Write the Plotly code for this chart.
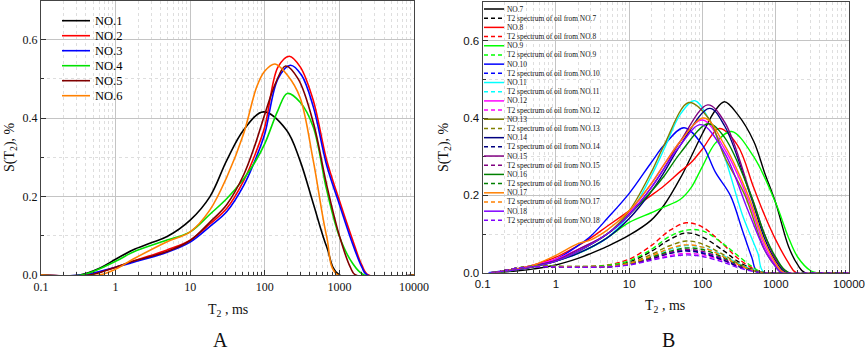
import plotly.graph_objects as go

W, H = 865, 351

# ---------------- Panel A data ----------------
a_names = ["NO.1", "NO.2", "NO.3", "NO.4", "NO.5", "NO.6"]
a_colors = ["#000000", "#ff0000", "#0000ff", "#00e000", "#800000", "#ff8000"]
a_x = [
    [0.1, 0.33, 0.62, 1, 1.7, 3, 4.9, 10, 18.4, 31, 52, 96, 195, 295, 445, 675, 1000, 10000],
    [0.1, 0.4, 1, 1.7, 4.9, 10, 18.4, 31, 52, 75, 100, 150, 213, 300, 445, 675, 1000, 1500, 2000, 2450, 10000],
    [0.1, 0.35, 1, 1.7, 4.9, 10, 18.4, 31, 52, 75, 100, 150, 220, 310, 445, 675, 1000, 1500, 2000, 2350, 10000],
    [0.1, 0.35, 1, 1.7, 4.9, 10, 18.4, 31, 52, 75, 100, 150, 200, 300, 445, 675, 1000, 1500, 2150, 10000],
    [0.1, 0.45, 1, 1.7, 4.9, 10, 18.4, 31, 52, 75, 100, 140, 190, 280, 445, 675, 1000, 1400, 1650, 10000],
    [0.1, 0.6, 1, 1.7, 4.9, 10, 18.4, 31, 52, 78, 100, 137, 200, 295, 445, 675, 950, 10000],
]
a_y = [
    [0, 0, 0.018, 0.04, 0.064, 0.082, 0.098, 0.14, 0.2, 0.293, 0.37, 0.416, 0.37, 0.293, 0.183, 0.072, 0, 0],
    [0, 0, 0.02, 0.035, 0.064, 0.089, 0.13, 0.17, 0.24, 0.31, 0.378, 0.53, 0.558, 0.53, 0.446, 0.293, 0.19, 0.09, 0.025, 0, 0],
    [0, 0, 0.02, 0.032, 0.058, 0.084, 0.124, 0.162, 0.228, 0.295, 0.36, 0.5, 0.535, 0.51, 0.43, 0.28, 0.18, 0.08, 0.02, 0, 0],
    [0, 0, 0.035, 0.058, 0.089, 0.11, 0.155, 0.195, 0.245, 0.29, 0.335, 0.42, 0.463, 0.44, 0.378, 0.217, 0.098, 0.03, 0, 0],
    [0, 0, 0.02, 0.035, 0.06, 0.088, 0.135, 0.18, 0.255, 0.335, 0.41, 0.49, 0.533, 0.5, 0.39, 0.23, 0.1, 0.02, 0, 0],
    [0, 0, 0.015, 0.04, 0.085, 0.11, 0.166, 0.25, 0.36, 0.48, 0.52, 0.538, 0.51, 0.454, 0.293, 0.098, 0, 0],
]

# ---------------- Panel B data ----------------
b_names = ["NO.%d" % i for i in range(7, 19)]
b_colors = ["#000000", "#ff0000", "#00ff00", "#0000ff", "#00ffff", "#ff00ff",
            "#808000", "#000080", "#800080", "#008000", "#ff8000", "#8000ff"]
b_x = [
    [0.15, 0.3, 0.5, 1, 2, 3, 5, 10, 20, 30, 50, 70, 100, 150, 200, 300, 500, 700, 1000, 1500, 2000, 2500, 10000],
    [0.15, 0.3, 0.5, 1, 2, 3, 5, 10, 20, 30, 50, 70, 100, 170, 300, 500, 700, 1000, 1500, 1900, 10000],
    [0.15, 0.3, 0.5, 1, 2, 3, 5, 10, 20, 30, 50, 70, 100, 150, 250, 500, 1000, 1500, 2000, 3000, 3600, 10000],
    [0.12, 0.3, 0.5, 1, 2, 3, 5, 10, 20, 30, 56, 100, 150, 240, 350, 470, 580, 10000],
    [0.13, 0.3, 0.5, 1, 2, 5, 10, 20, 30, 50, 78, 120, 200, 350, 570, 700, 10000],
    [0.13, 0.3, 0.5, 1, 2, 5, 10, 20, 30, 50, 100, 200, 420, 700, 1000, 1300, 10000],
    [0.13, 0.3, 0.5, 1, 2, 5, 10, 20, 30, 65, 120, 200, 380, 700, 1000, 1200, 10000],
    [0.13, 0.3, 0.5, 1, 2, 5, 10, 20, 30, 50, 125, 200, 450, 700, 1000, 1400, 10000],
    [0.13, 0.3, 0.5, 1, 2, 5, 10, 20, 30, 50, 118, 200, 460, 700, 1000, 1500, 10000],
    [0.13, 0.3, 0.5, 1, 2, 5, 10, 20, 30, 50, 120, 200, 460, 700, 1000, 1500, 10000],
    [0.13, 0.3, 0.5, 1, 2, 3, 5, 10, 20, 30, 50, 105, 200, 420, 700, 1000, 1300, 10000],
    [0.13, 0.3, 0.5, 1, 2, 5, 10, 20, 30, 50, 95, 200, 400, 700, 1000, 1200, 10000],
]
b_y = [
    [0, 0.005, 0.01, 0.02, 0.037, 0.05, 0.068, 0.097, 0.136, 0.175, 0.245, 0.3, 0.36, 0.42, 0.442, 0.41, 0.34, 0.26, 0.18, 0.067, 0.02, 0, 0],
    [0, 0.01, 0.02, 0.04, 0.07, 0.09, 0.12, 0.16, 0.2, 0.225, 0.262, 0.285, 0.32, 0.373, 0.33, 0.22, 0.15, 0.085, 0.025, 0, 0],
    [0, 0.008, 0.016, 0.03, 0.05, 0.065, 0.09, 0.13, 0.155, 0.17, 0.19, 0.22, 0.275, 0.335, 0.365, 0.3, 0.18, 0.09, 0.04, 0.005, 0, 0],
    [0, 0.01, 0.018, 0.035, 0.07, 0.095, 0.14, 0.205, 0.285, 0.33, 0.375, 0.33, 0.26, 0.2, 0.11, 0.04, 0, 0],
    [0, 0.008, 0.016, 0.03, 0.05, 0.09, 0.15, 0.25, 0.32, 0.41, 0.445, 0.4, 0.3, 0.15, 0.05, 0, 0],
    [0, 0.01, 0.02, 0.035, 0.06, 0.1, 0.155, 0.23, 0.28, 0.34, 0.395, 0.32, 0.19, 0.07, 0.02, 0, 0],
    [0, 0.008, 0.016, 0.03, 0.055, 0.1, 0.16, 0.26, 0.33, 0.44, 0.4, 0.3, 0.2, 0.06, 0.015, 0, 0],
    [0, 0.008, 0.016, 0.03, 0.05, 0.09, 0.14, 0.21, 0.26, 0.33, 0.425, 0.38, 0.2, 0.09, 0.03, 0, 0],
    [0, 0.009, 0.018, 0.032, 0.06, 0.1, 0.15, 0.22, 0.27, 0.34, 0.434, 0.39, 0.2, 0.1, 0.035, 0, 0],
    [0, 0.008, 0.016, 0.03, 0.055, 0.1, 0.15, 0.21, 0.25, 0.31, 0.385, 0.35, 0.2, 0.1, 0.04, 0, 0],
    [0, 0.01, 0.02, 0.045, 0.075, 0.085, 0.11, 0.16, 0.23, 0.28, 0.34, 0.4, 0.33, 0.2, 0.08, 0.025, 0, 0],
    [0, 0.008, 0.016, 0.03, 0.055, 0.1, 0.15, 0.22, 0.27, 0.33, 0.383, 0.31, 0.17, 0.06, 0.015, 0, 0],
]
oil_names = ["T2 spectrum of oil from NO.%d" % i for i in range(7, 19)]
oil_x = [0.15, 0.3, 0.6, 1, 2, 5, 10, 20, 35, 60, 100, 200, 300, 500, 700, 10000]
oil_y = [
    [0, 0.012, 0.017, 0.016, 0.015, 0.017, 0.028, 0.055, 0.085, 0.103, 0.092, 0.055, 0.03, 0.008, 0, 0],
    [0, 0.012, 0.018, 0.017, 0.016, 0.02, 0.035, 0.07, 0.108, 0.129, 0.118, 0.07, 0.038, 0.01, 0, 0],
    [0, 0.012, 0.018, 0.017, 0.016, 0.019, 0.031, 0.06, 0.093, 0.11, 0.108, 0.072, 0.045, 0.013, 0, 0],
    [0, 0.012, 0.016, 0.015, 0.014, 0.015, 0.022, 0.037, 0.05, 0.058, 0.052, 0.032, 0.018, 0.005, 0, 0],
    [0, 0.012, 0.017, 0.016, 0.015, 0.016, 0.024, 0.042, 0.06, 0.07, 0.066, 0.043, 0.025, 0.007, 0, 0],
    [0, 0.012, 0.016, 0.015, 0.014, 0.015, 0.021, 0.034, 0.044, 0.05, 0.046, 0.03, 0.017, 0.004, 0, 0],
    [0, 0.012, 0.017, 0.016, 0.015, 0.016, 0.025, 0.047, 0.069, 0.082, 0.074, 0.045, 0.025, 0.006, 0, 0],
    [0, 0.012, 0.016, 0.015, 0.014, 0.015, 0.022, 0.036, 0.049, 0.056, 0.05, 0.031, 0.017, 0.004, 0, 0],
    [0, 0.012, 0.016, 0.015, 0.014, 0.015, 0.022, 0.038, 0.052, 0.06, 0.055, 0.035, 0.02, 0.005, 0, 0],
    [0, 0.012, 0.017, 0.016, 0.015, 0.016, 0.024, 0.04, 0.055, 0.064, 0.06, 0.038, 0.022, 0.005, 0, 0],
    [0, 0.012, 0.017, 0.016, 0.015, 0.016, 0.024, 0.043, 0.062, 0.072, 0.066, 0.04, 0.022, 0.005, 0, 0],
    [0, 0.012, 0.016, 0.015, 0.014, 0.015, 0.02, 0.032, 0.041, 0.046, 0.042, 0.026, 0.014, 0.003, 0, 0],
]

x_ticks = [0.1, 1, 10, 100, 1000, 10000]
x_tick_labels = ["0.1", "1", "10", "100", "1000", "10000"]
y_ticks = [0.0, 0.2, 0.4, 0.6]
y_tick_labels = ["0.0", "0.2", "0.4", "0.6"]

SERIF = "Liberation Serif"
SANS = "Liberation Sans"

fig = go.Figure()

for n, c, xs, ys in zip(a_names, a_colors, a_x, a_y):
    fig.add_trace(go.Scatter(x=xs, y=ys, mode="lines", name=n, xaxis="x", yaxis="y",
                             line=dict(color=c, width=1.6, shape="spline", smoothing=1.0),
                             showlegend=False))

for i in range(12):
    fig.add_trace(go.Scatter(x=b_x[i], y=b_y[i], mode="lines", name=b_names[i], xaxis="x2", yaxis="y2",
                             line=dict(color=b_colors[i], width=1.4, shape="spline", smoothing=1.0),
                             showlegend=False))
for i in range(12):
    fig.add_trace(go.Scatter(x=oil_x, y=oil_y[i], mode="lines", name=oil_names[i], xaxis="x2", yaxis="y2",
                             line=dict(color=b_colors[i], width=1.4, dash="5px,3px", shape="spline", smoothing=1.0),
                             showlegend=False))


def px(v):
    return v / W


def py(v):
    return 1 - v / H


def xaxis(dom, anchor, font, size):
    return dict(type="log", domain=dom, anchor=anchor, range=[-1, 4], automargin=False,
                tickvals=x_ticks, ticktext=x_tick_labels, tickfont=dict(family=font, size=size, color="#111"),
                ticks="inside", ticklen=5, tickcolor="#333",
                showline=True, linecolor="#444", linewidth=1.3, mirror=True,
                showgrid=True, gridcolor="#c4c4c4", gridwidth=1,
                minor=dict(dtick="D1", ticks="inside", ticklen=3, tickcolor="#333",
                           showgrid=True, gridcolor="#dedede", griddash="dot", gridwidth=1),
                zeroline=False)


def yaxis(dom, anchor, font, size):
    return dict(domain=dom, anchor=anchor, range=[0, 0.7], automargin=False,
                tickvals=y_ticks, ticktext=y_tick_labels, tickfont=dict(family=font, size=size, color="#111"),
                ticks="inside", ticklen=5, tickcolor="#333",
                showline=True, linecolor="#444", linewidth=1.3, mirror=True,
                showgrid=True, gridcolor="#c4c4c4", gridwidth=1,
                minor=dict(dtick=0.1, ticks="inside", ticklen=3, tickcolor="#333",
                           showgrid=True, gridcolor="#dedede", griddash="dot", gridwidth=1),
                zeroline=False)


shapes = []
annotations = []

# Legend A
for i, (n, c) in enumerate(zip(a_names, a_colors)):
    yy = 20.7 + i * 15.0
    shapes.append(dict(type="line", xref="paper", yref="paper", x0=px(62), x1=px(90), y0=py(yy), y1=py(yy),
                       line=dict(color=c, width=1.6)))
    annotations.append(dict(text=n, xref="paper", yref="paper", x=px(92.5), y=py(yy), xanchor="left",
                            yanchor="middle", showarrow=False, font=dict(family=SERIF, size=12.5, color="#000")))

# Legend B
b_leg = []
for i in range(12):
    b_leg.append((b_names[i], b_colors[i], "solid"))
    b_leg.append((oil_names[i], b_colors[i], "dash"))
for i, (n, c, d) in enumerate(b_leg):
    yy = 9.0 + i * 9.19
    shapes.append(dict(type="line", xref="paper", yref="paper", x0=px(484), x1=px(504), y0=py(yy), y1=py(yy),
                       line=dict(color=c, width=1.5, dash="4px,3px" if d == "dash" else "solid")))
    annotations.append(dict(text=n, xref="paper", yref="paper", x=px(505), y=py(yy), xanchor="left",
                            yanchor="middle", showarrow=False, font=dict(family=SERIF, size=7.4, color="#111")))


def label(text, x, y, size, angle=0):
    return dict(text=text, xref="paper", yref="paper", x=px(x), y=py(y), xanchor="center", yanchor="middle",
                textangle=angle, showarrow=False, font=dict(family=SERIF, size=size, color="#111"))


annotations += [
    label("S(T<sub>2</sub>), %", 10, 147, 14, -90),
    label("T<sub>2</sub> , ms", 228, 310, 14),
    label("A", 220, 340, 20),
    label("S(T<sub>2</sub>), %", 444, 147, 14, -90),
    label("T<sub>2</sub> , ms", 665, 306, 14),
    label("B", 668, 340, 20),
]

fig.update_layout(
    width=W, height=H, margin=dict(l=0, r=0, t=0, b=0),
    paper_bgcolor="white", plot_bgcolor="white",
    xaxis=xaxis([px(41), px(414)], "y", SERIF, 12),
    yaxis=yaxis([py(275), py(0.5)], "x", SERIF, 12),
    xaxis2=xaxis([px(482.7), px(849)], "y2", SANS, 11.5),
    yaxis2=yaxis([py(272.7), py(2)], "x2", SANS, 11.5),
    shapes=shapes, annotations=annotations, showlegend=False,
)

fig.write_html("out.html", config={"displayModeBar": False},
               post_script="document.body.style.margin='0';document.body.style.padding='0';")
